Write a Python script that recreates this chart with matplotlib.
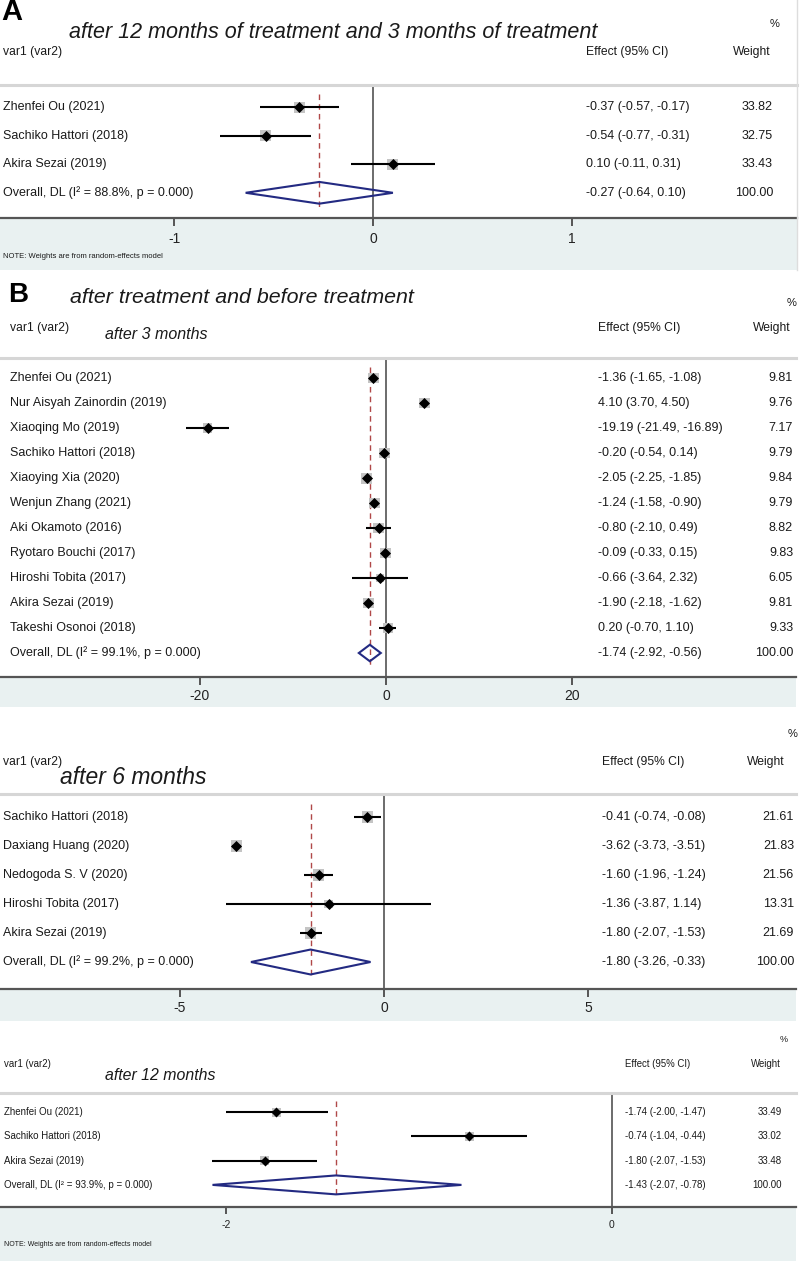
import numpy as np
import matplotlib.pyplot as plt
from matplotlib.patches import Polygon, Rectangle
import matplotlib.transforms as mtransforms

plt.rcParams['font.family'] = ['Liberation Sans', 'DejaVu Sans']

W, H = 800, 1261

# panel A: after 12 months vs 3 months of treatment
a_studies = ["Zhenfei Ou (2021)", "Sachiko Hattori (2018)", "Akira Sezai (2019)"]
a_eff = [-0.37, -0.54, 0.10]
a_lo = [-0.57, -0.77, -0.11]
a_hi = [-0.17, -0.31, 0.31]
a_wt = [33.82, 32.75, 33.43]
a_overall = [-0.27, -0.64, 0.10]
a_i2 = 88.8
a_ticks = [-1, 0, 1]

# panel B: after 3 months
b3_studies = ["Zhenfei Ou (2021)", "Nur Aisyah Zainordin (2019)", "Xiaoqing Mo (2019)",
              "Sachiko Hattori (2018)", "Xiaoying Xia (2020)", "Wenjun Zhang (2021)",
              "Aki Okamoto (2016)", "Ryotaro Bouchi (2017)", "Hiroshi Tobita (2017)",
              "Akira Sezai (2019)", "Takeshi Osonoi (2018)"]
b3_eff = [-1.36, 4.10, -19.19, -0.20, -2.05, -1.24, -0.80, -0.09, -0.66, -1.90, 0.20]
b3_lo = [-1.65, 3.70, -21.49, -0.54, -2.25, -1.58, -2.10, -0.33, -3.64, -2.18, -0.70]
b3_hi = [-1.08, 4.50, -16.89, 0.14, -1.85, -0.90, 0.49, 0.15, 2.32, -1.62, 1.10]
b3_wt = [9.81, 9.76, 7.17, 9.79, 9.84, 9.79, 8.82, 9.83, 6.05, 9.81, 9.33]
b3_overall = [-1.74, -2.92, -0.56]
b3_i2 = 99.1
b3_ticks = [-20, 0, 20]

# panel B: after 6 months
b6_studies = ["Sachiko Hattori (2018)", "Daxiang Huang (2020)", "Nedogoda S. V (2020)",
              "Hiroshi Tobita (2017)", "Akira Sezai (2019)"]
b6_eff = [-0.41, -3.62, -1.60, -1.36, -1.80]
b6_lo = [-0.74, -3.73, -1.96, -3.87, -2.07]
b6_hi = [-0.08, -3.51, -1.24, 1.14, -1.53]
b6_wt = [21.61, 21.83, 21.56, 13.31, 21.69]
b6_overall = [-1.80, -3.26, -0.33]
b6_i2 = 99.2
b6_ticks = [-5, 0, 5]

# panel B: after 12 months
b12_studies = ["Zhenfei Ou (2021)", "Sachiko Hattori (2018)", "Akira Sezai (2019)"]
b12_eff = [-1.74, -0.74, -1.80]
b12_lo = [-2.00, -1.04, -2.07]
b12_hi = [-1.47, -0.44, -1.53]
b12_wt = [33.49, 33.02, 33.48]
b12_overall = [-1.43, -2.07, -0.78]
b12_i2 = 93.9
b12_ticks = [-2, 0]

BAND = '#e9f1f1'
NAVY = '#232a82'
RED = '#b04848'

fig = plt.figure(figsize=(W / 100, H / 100), dpi=100)


def fx(x):
    return x / W


def fy(y):
    return 1 - y / H


def draw_panel(p, studies, eff, lo, hi, wt, overall, i2, ticks):
    n = len(studies)
    ax = fig.add_axes([0, fy(p['bottom']), p['right'] / W, (p['bottom'] - p['top']) / H])
    ax.set_xlim(-p['x0'] / p['scale'], (p['right'] - p['x0']) / p['scale'])
    ybot = n + (p['bottom'] - p['row0'] - n * p['step']) / p['step']
    ytop = -(p['row0'] - p['top']) / p['step']
    ax.set_ylim(ybot, ytop)

    # band under the axis
    fig.patches.append(Rectangle((0, fy(p['band'])), p['right'] / W, (p['band'] - p['bottom']) / H,
                                 transform=fig.transFigure, facecolor=BAND, edgecolor='none', zorder=-1))

    rows = np.arange(n)
    wmax = max(wt)
    side = p['box'] * np.sqrt(np.array(wt) / wmax) * 0.72
    ax.axvline(0, color='#444444', lw=1.1, zorder=1)
    ax.vlines(overall[0], -0.45, n + 0.5, color=RED, lw=1, linestyles=(0, (4, 3)), zorder=2)
    ax.scatter(eff, rows, marker='s', s=side ** 2, color='#c4c4c4', lw=0, zorder=3)
    ax.hlines(rows, lo, hi, color='black', lw=1.5, zorder=4)
    ax.scatter(eff, rows, marker='D', s=p['dot'], color='black', lw=0, zorder=5)
    h = p['dh']
    ax.add_patch(Polygon([(overall[1], n), (overall[0], n - h), (overall[2], n), (overall[0], n + h)],
                         closed=True, fill=False, edgecolor=NAVY, lw=1.5, zorder=6))

    for s in ['left', 'right']:
        ax.spines[s].set_visible(False)
    ax.spines['top'].set_color('#d6d6d6')
    ax.spines['top'].set_linewidth(2.2)
    ax.spines['bottom'].set_color('#555555')
    ax.spines['bottom'].set_linewidth(1.6)
    ax.set_yticks([])
    ax.set_xticks(ticks)
    ax.set_xticklabels([str(t) for t in ticks])
    ax.tick_params(axis='x', direction='out', length=p['tl'], width=1.4, color='#555555',
                   labelsize=p['tfs'], pad=p['pad'], labelcolor='#222222')

    tr = mtransforms.blended_transform_factory(fig.transFigure, ax.transData)
    labels = studies + ["Overall, DL (I\u00b2 = %.1f%%, p = 0.000)" % i2]
    effs = list(zip(eff, lo, hi)) + [tuple(overall)]
    wts = list(wt) + [100.0]
    for r, (lab, e, w) in enumerate(zip(labels, effs, wts)):
        ax.text(fx(p['lx']), r, lab, transform=tr, fontsize=p['fs'], va='center', ha='left', color='#1a1a1a')
        ax.text(fx(p['ex']), r, "%.2f (%.2f, %.2f)" % e, transform=tr, fontsize=p['fs'],
                va='center', ha='left', color='#1a1a1a')
        ax.text(fx(p['wx']), r, "%.2f" % w, transform=tr, fontsize=p['fs'],
                va='center', ha='right', color='#1a1a1a')
    return ax


pA = dict(top=85, bottom=218, row0=107, step=28.6, x0=373, scale=199, right=797, band=270,
          box=11, dot=32, dh=0.38, tl=6, tfs=10, pad=4, fs=9, lx=3, ex=586, wx=773)
pB3 = dict(top=358, bottom=677, row0=378, step=25, x0=386, scale=9.3, right=796, band=707,
           box=11, dot=32, dh=0.33, tl=6, tfs=10, pad=3, fs=9, lx=10, ex=598, wx=793)
pB6 = dict(top=794, bottom=989, row0=817, step=29, x0=384, scale=40.8, right=796, band=1021,
           box=11.5, dot=32, dh=0.43, tl=6, tfs=10, pad=3, fs=9, lx=3, ex=602, wx=794)
pB12 = dict(top=1093, bottom=1207, row0=1112, step=24.3, x0=612, scale=193, right=796, band=1261,
            box=9, dot=26, dh=0.39, tl=5, tfs=7.5, pad=4, fs=7, lx=4, ex=625, wx=782)

draw_panel(pA, a_studies, a_eff, a_lo, a_hi, a_wt, a_overall, a_i2, a_ticks)
draw_panel(pB3, b3_studies, b3_eff, b3_lo, b3_hi, b3_wt, b3_overall, b3_i2, b3_ticks)
draw_panel(pB6, b6_studies, b6_eff, b6_lo, b6_hi, b6_wt, b6_overall, b6_i2, b6_ticks)
draw_panel(pB12, b12_studies, b12_eff, b12_lo, b12_hi, b12_wt, b12_overall, b12_i2, b12_ticks)

# right border of panel A
fig.add_artist(plt.Line2D([fx(797), fx(797)], [fy(0), fy(270)], color='#dddddd', lw=1))

txt = '#1a1a1a'
# panel A headers
fig.text(fx(1), fy(12), "A", fontsize=21, fontweight='bold', va='center', ha='left')
fig.text(fx(69), fy(32), "after 12 months of treatment and 3 months of treatment", fontsize=15.5,
         style='italic', va='center', ha='left', color=txt)
fig.text(fx(775), fy(24), "%", fontsize=8, va='center', ha='center', color=txt)
fig.text(fx(3), fy(52), "var1 (var2)", fontsize=8.7, va='center', ha='left', color=txt)
fig.text(fx(586), fy(52), "Effect (95% CI)", fontsize=8.7, va='center', ha='left', color=txt)
fig.text(fx(771), fy(52), "Weight", fontsize=8.7, va='center', ha='right', color=txt)
fig.text(fx(3), fy(257), "NOTE: Weights are from random-effects model", fontsize=5.5, va='center', ha='left', color=txt)

# panel B, 3 months
fig.text(fx(8), fy(295), "B", fontsize=20, fontweight='bold', va='center', ha='left')
fig.text(fx(70), fy(297), "after treatment and before treatment", fontsize=15.4,
         style='italic', va='center', ha='left', color=txt)
fig.text(fx(792), fy(303), "%", fontsize=8, va='center', ha='center', color=txt)
fig.text(fx(10), fy(328), "var1 (var2)", fontsize=8.7, va='center', ha='left', color=txt)
fig.text(fx(105), fy(335), "after 3 months", fontsize=11.5, style='italic', va='center', ha='left', color=txt)
fig.text(fx(598), fy(328), "Effect (95% CI)", fontsize=8.7, va='center', ha='left', color=txt)
fig.text(fx(791), fy(328), "Weight", fontsize=8.7, va='center', ha='right', color=txt)

# panel B, 6 months
fig.text(fx(793), fy(734), "%", fontsize=8, va='center', ha='center', color=txt)
fig.text(fx(3), fy(762), "var1 (var2)", fontsize=8.7, va='center', ha='left', color=txt)
fig.text(fx(60), fy(778), "after 6 months", fontsize=16.5, style='italic', va='center', ha='left', color=txt)
fig.text(fx(602), fy(762), "Effect (95% CI)", fontsize=8.7, va='center', ha='left', color=txt)
fig.text(fx(785), fy(762), "Weight", fontsize=8.7, va='center', ha='right', color=txt)

# panel B, 12 months
fig.text(fx(784), fy(1040), "%", fontsize=6.5, va='center', ha='center', color=txt)
fig.text(fx(4), fy(1064), "var1 (var2)", fontsize=6.9, va='center', ha='left', color=txt)
fig.text(fx(105), fy(1076), "after 12 months", fontsize=11.4, style='italic', va='center', ha='left', color=txt)
fig.text(fx(625), fy(1064), "Effect (95% CI)", fontsize=6.9, va='center', ha='left', color=txt)
fig.text(fx(781), fy(1064), "Weight", fontsize=6.9, va='center', ha='right', color=txt)
fig.text(fx(4), fy(1244), "NOTE: Weights are from random-effects model", fontsize=5, va='center', ha='left', color=txt)

fig.savefig('out.png', dpi=100, facecolor='white')
